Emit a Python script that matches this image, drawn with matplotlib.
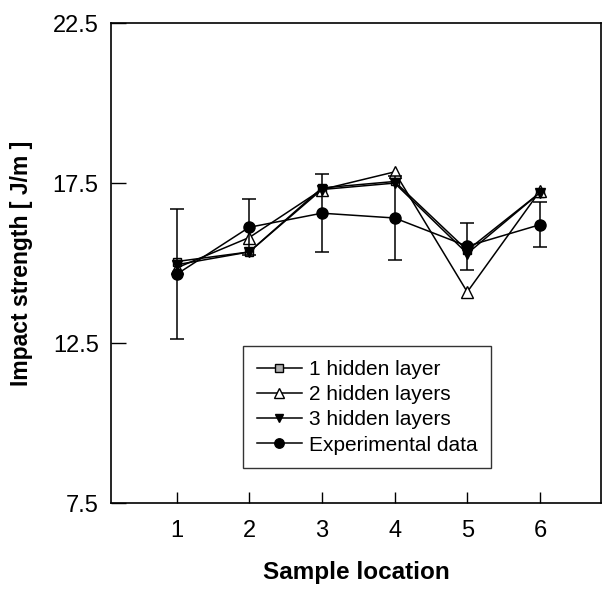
import numpy as np
import matplotlib
matplotlib.use('Agg')
import matplotlib.pyplot as plt

plt.rcParams['font.family'] = ['Liberation Sans', 'DejaVu Sans']

# sample locations
locations = [1, 2, 3, 4, 5, 6]

# network predictions
one_hidden = [15.05, 15.35, 17.35, 17.55, 15.40, 17.20]
two_hidden = [14.85, 15.80, 17.30, 17.85, 14.10, 17.25]
three_hidden = [14.95, 15.35, 17.30, 17.50, 15.30, 17.20]

# measured values with error bars
experimental = [14.65, 16.12, 16.56, 16.41, 15.53, 16.20]
exp_err = [2.03, 0.88, 1.22, 1.32, 0.73, 0.70]

fig = plt.figure(figsize=(6.04, 5.90), dpi=100)
ax = fig.add_axes([0.184, 0.147, 0.811, 0.814])

ax.plot(locations, one_hidden, '-', color='black', lw=1.1, marker='s',
        ms=6, mfc='#b0b0b0', mec='black', mew=1.0, label='1 hidden layer')
ax.plot(locations, two_hidden, '-', color='black', lw=1.1, marker='^',
        ms=8, mfc='white', mec='black', mew=1.0, label='2 hidden layers')
ax.plot(locations, three_hidden, '-', color='black', lw=1.1, marker='v',
        ms=7, mfc='black', mec='black', label='3 hidden layers')
ax.errorbar(locations, experimental, yerr=exp_err, fmt='none', ecolor='black',
            elinewidth=1.1, capsize=5, capthick=1.1)
ax.plot(locations, experimental, '-o', color='black', lw=1.1, ms=8,
        label='Experimental data')

ax.set_xlim(0.1, 6.84)
ax.set_ylim(7.5, 22.5)
ax.set_xticks(locations)
ax.set_yticks([7.5, 12.5, 17.5, 22.5])
ax.set_yticklabels(['7.5', '12.5', '17.5', '22.5'])
ax.tick_params(axis='both', direction='in', labelsize=17, width=1.0)
ax.tick_params(axis='x', length=8, pad=12)
ax.tick_params(axis='y', length=11, pad=9)
for s in ax.spines.values():
    s.set_linewidth(1.2)

ax.set_xlabel('Sample location', fontsize=17.5, fontweight='bold', labelpad=14)
ax.set_ylabel('Impact strength [ J/m ]', fontsize=16.5, fontweight='bold', labelpad=14)

leg = ax.legend(loc='lower left', bbox_to_anchor=(0.27, 0.073), borderaxespad=0,
                fontsize=15, frameon=True, fancybox=False, edgecolor='black',
                handlelength=2.15, handletextpad=0.35, labelspacing=0.3,
                borderpad=0.65, markerscale=0.85)
leg.get_frame().set_linewidth(1.0)

fig.savefig('out.png', dpi=100)
